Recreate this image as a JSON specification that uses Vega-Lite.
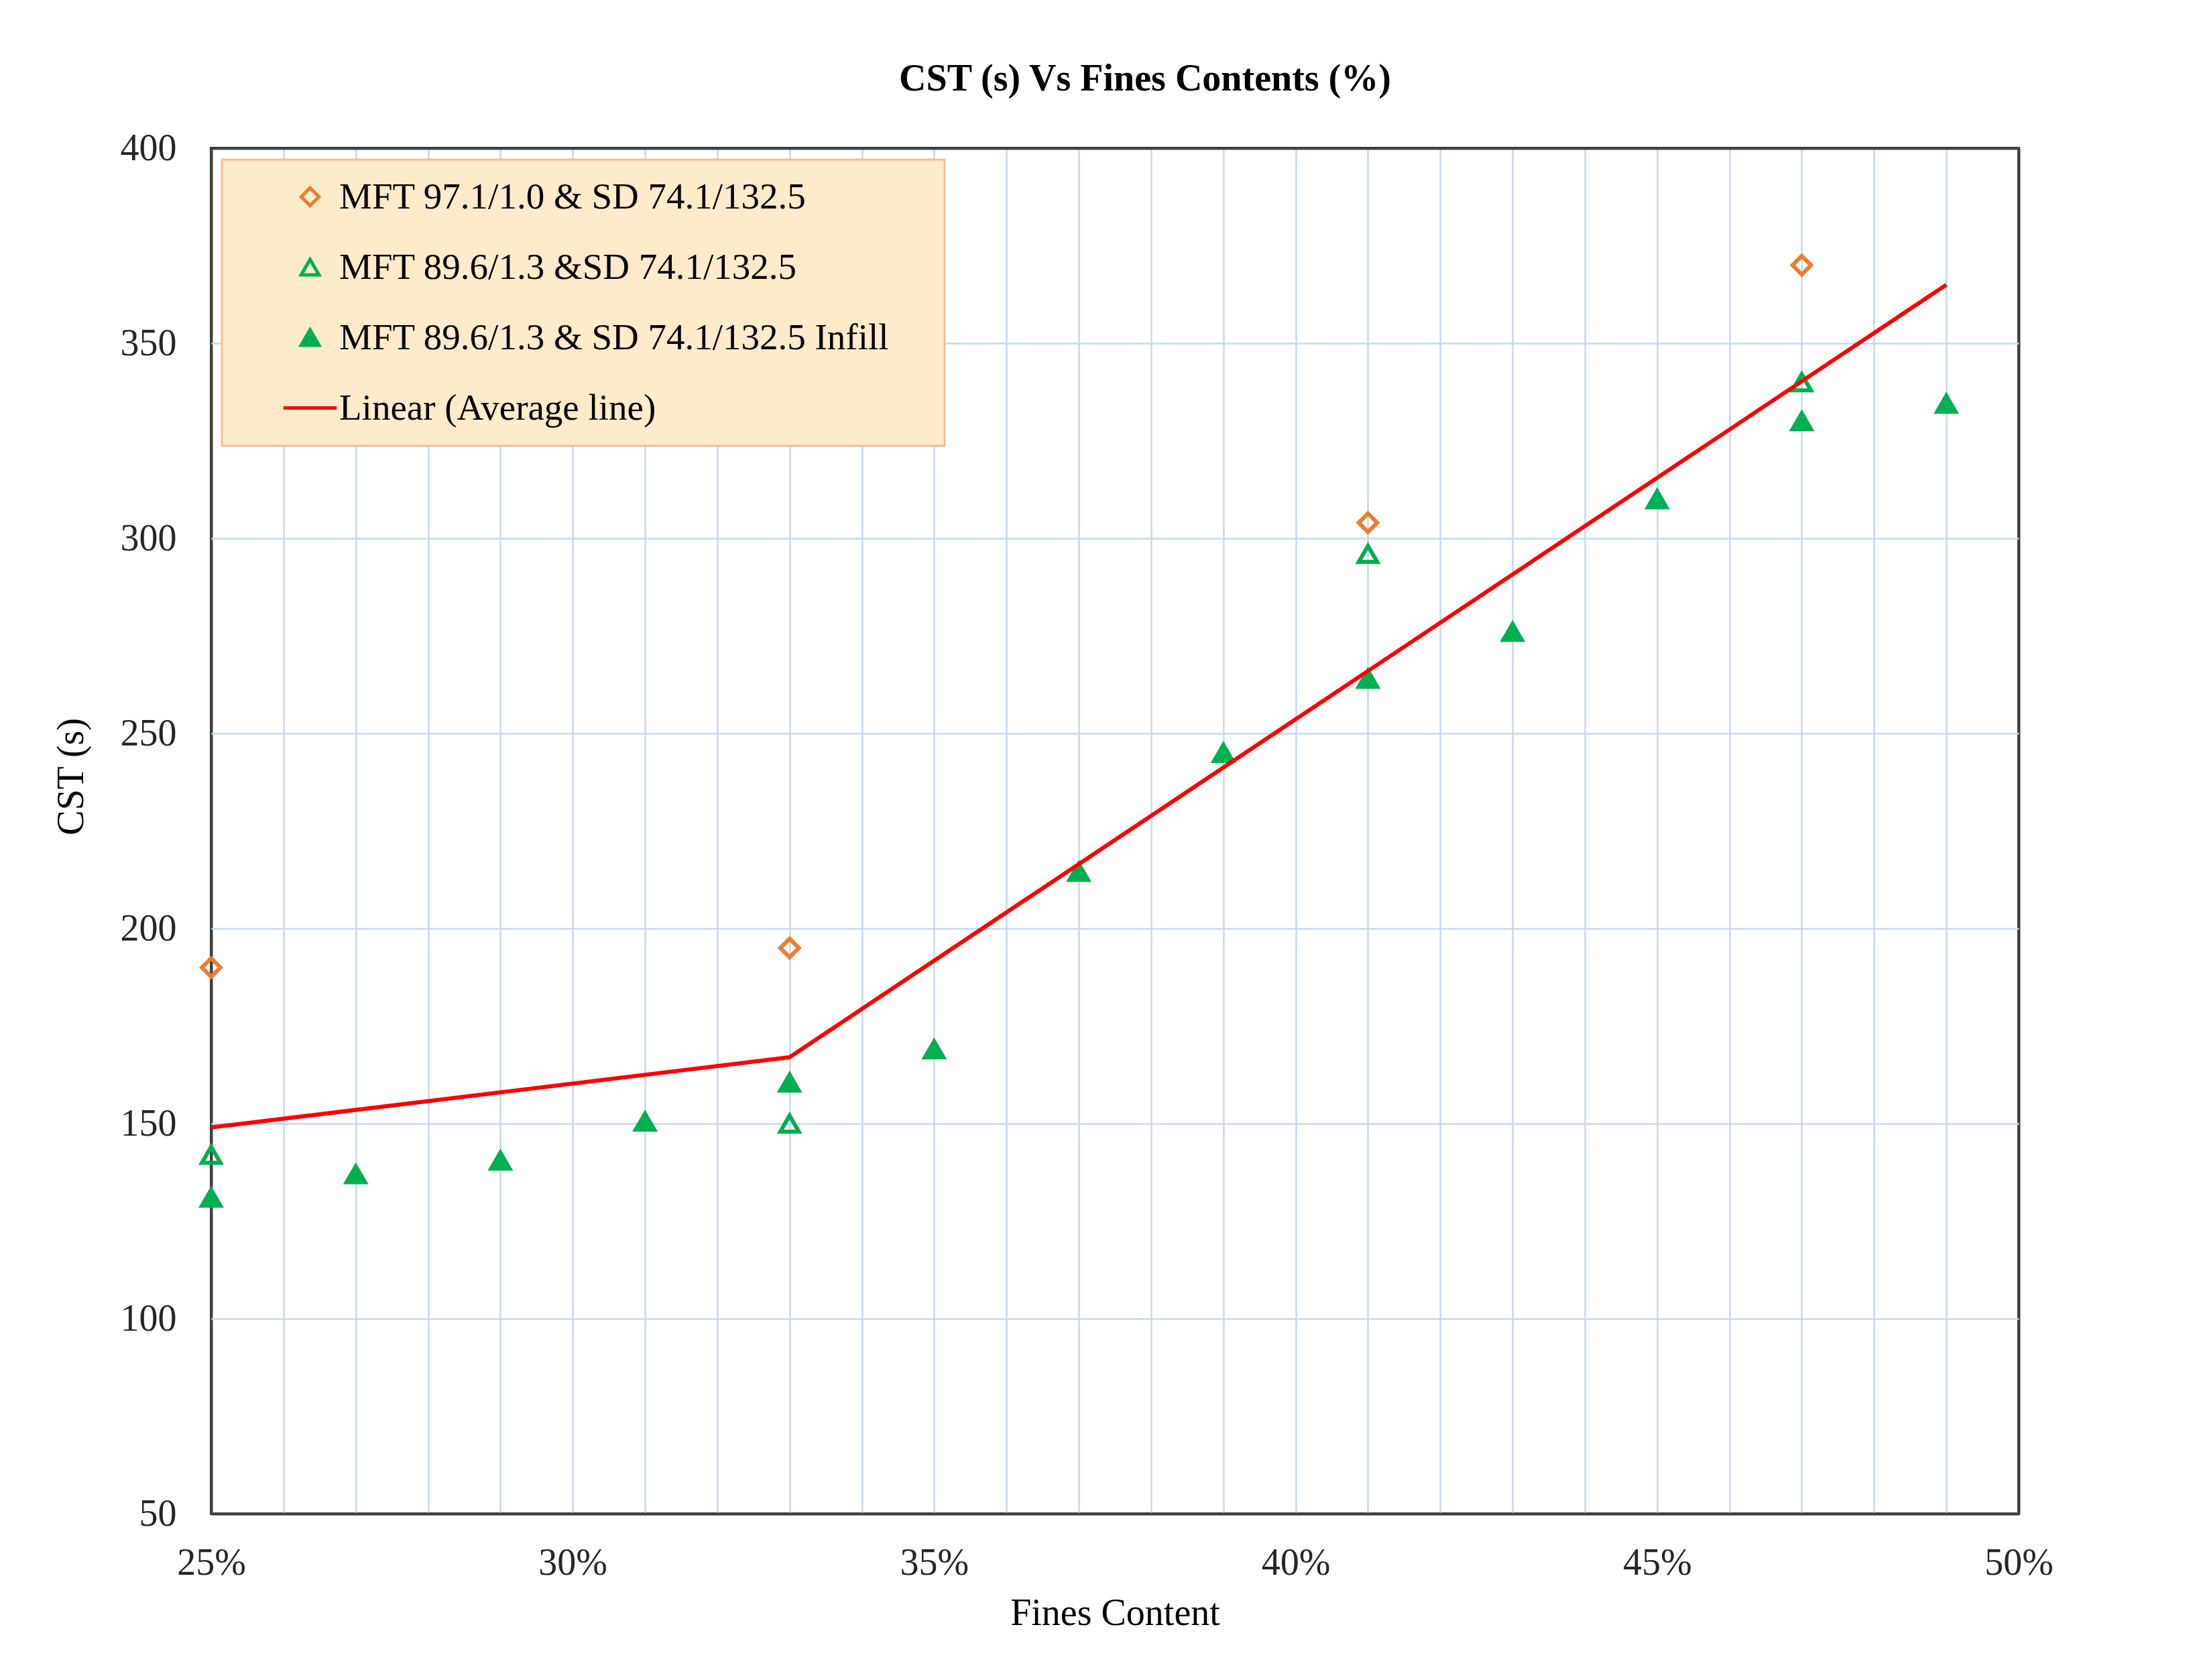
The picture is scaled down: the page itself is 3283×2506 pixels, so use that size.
{
  "$schema": "https://vega.github.io/schema/vega-lite/v6.json",
  "autosize": {"type": "none"},
  "padding": {"left": 315, "top": 221, "right": 272, "bottom": 248},
  "width": 2696,
  "height": 2037,
  "background": "white",
  "title": {
    "text": "CST (s) Vs  Fines Contents (%)",
    "font": "Liberation Serif",
    "fontSize": 56,
    "fontWeight": "bold",
    "color": "#000000",
    "offset": 46,
    "dx": 45
  },
  "data": {
    "values": [
      {"fines": 0.25, "cst": 190, "series": "MFT 97.1/1.0 & SD 74.1/132.5"},
      {"fines": 0.33, "cst": 195, "series": "MFT 97.1/1.0 & SD 74.1/132.5"},
      {"fines": 0.41, "cst": 304, "series": "MFT 97.1/1.0 & SD 74.1/132.5"},
      {"fines": 0.47, "cst": 370, "series": "MFT 97.1/1.0 & SD 74.1/132.5"},
      {"fines": 0.25, "cst": 142, "series": "MFT 89.6/1.3 &SD 74.1/132.5"},
      {"fines": 0.33, "cst": 150, "series": "MFT 89.6/1.3 &SD 74.1/132.5"},
      {"fines": 0.41, "cst": 296, "series": "MFT 89.6/1.3 &SD 74.1/132.5"},
      {"fines": 0.47, "cst": 340, "series": "MFT 89.6/1.3 &SD 74.1/132.5"},
      {"fines": 0.25, "cst": 131, "series": "MFT 89.6/1.3 & SD 74.1/132.5 Infill"},
      {"fines": 0.27, "cst": 137, "series": "MFT 89.6/1.3 & SD 74.1/132.5 Infill"},
      {"fines": 0.29, "cst": 140.5, "series": "MFT 89.6/1.3 & SD 74.1/132.5 Infill"},
      {"fines": 0.31, "cst": 150.5, "series": "MFT 89.6/1.3 & SD 74.1/132.5 Infill"},
      {"fines": 0.33, "cst": 160.5, "series": "MFT 89.6/1.3 & SD 74.1/132.5 Infill"},
      {"fines": 0.35, "cst": 169, "series": "MFT 89.6/1.3 & SD 74.1/132.5 Infill"},
      {"fines": 0.37, "cst": 214.5, "series": "MFT 89.6/1.3 & SD 74.1/132.5 Infill"},
      {"fines": 0.39, "cst": 245, "series": "MFT 89.6/1.3 & SD 74.1/132.5 Infill"},
      {"fines": 0.41, "cst": 264, "series": "MFT 89.6/1.3 & SD 74.1/132.5 Infill"},
      {"fines": 0.43, "cst": 276, "series": "MFT 89.6/1.3 & SD 74.1/132.5 Infill"},
      {"fines": 0.45, "cst": 310, "series": "MFT 89.6/1.3 & SD 74.1/132.5 Infill"},
      {"fines": 0.47, "cst": 330, "series": "MFT 89.6/1.3 & SD 74.1/132.5 Infill"},
      {"fines": 0.49, "cst": 334.5, "series": "MFT 89.6/1.3 & SD 74.1/132.5 Infill"},
      {"fines": 0.25, "cst": 149, "series": "Linear (Average line)"},
      {"fines": 0.33, "cst": 167, "series": "Linear (Average line)"},
      {"fines": 0.49, "cst": 365, "series": "Linear (Average line)"}
    ]
  },
  "encoding": {
    "x": {
      "field": "fines",
      "type": "quantitative",
      "title": "Fines Content",
      "scale": {"domain": [0.25, 0.5], "nice": false, "zero": false},
      "axis": {
        "values": [0.25, 0.26, 0.27, 0.28, 0.29, 0.3, 0.31, 0.32, 0.33, 0.34, 0.35, 0.36, 0.37, 0.38, 0.39, 0.4, 0.41, 0.42, 0.43, 0.44, 0.45, 0.46, 0.47, 0.48, 0.49, 0.5],
        "format": ".0%",
        "labelExpr": "round(datum.value * 100) % 5 == 0 ? datum.label : ''",
        "labelOverlap": false,
        "labelFlush": false,
        "labelPadding": 46,
        "titlePadding": 20,
        "gridColor": {
          "condition": {"test": "round(datum.value * 100) == 25 || round(datum.value * 100) == 50", "value": "#404040"},
          "value": "#c6d9f0"
        },
        "gridWidth": {
          "condition": {"test": "round(datum.value * 100) == 25 || round(datum.value * 100) == 50", "value": 4},
          "value": 2.5
        }
      }
    },
    "y": {
      "field": "cst",
      "type": "quantitative",
      "title": "CST (s)",
      "scale": {"domain": [50, 400], "nice": false, "zero": false},
      "axis": {
        "values": [50, 100, 150, 200, 250, 300, 350, 400],
        "labelPadding": 52,
        "titlePadding": 44,
        "titleY": 937,
        "gridColor": {
          "condition": {"test": "datum.value == 50 || datum.value == 400", "value": "#404040"},
          "value": "#c6d9f0"
        },
        "gridWidth": {
          "condition": {"test": "datum.value == 50 || datum.value == 400", "value": 4},
          "value": 2.5
        }
      }
    }
  },
  "layer": [
    {
      "transform": [{"filter": "datum.series != 'Linear (Average line)'"}],
      "mark": {"type": "point", "size": 760, "strokeWidth": 6, "opacity": 1},
      "encoding": {
        "shape": {
          "field": "series",
          "type": "nominal",
          "scale": {
            "domain": ["MFT 97.1/1.0 & SD 74.1/132.5", "MFT 89.6/1.3 &SD 74.1/132.5", "MFT 89.6/1.3 & SD 74.1/132.5 Infill", "Linear (Average line)"],
            "range": ["diamond", "triangle-up", "triangle-up", "M-3,0H3"]
          },
          "legend": {
            "labelExpr": "datum.label + ' \u2800'"
          }
        },
        "stroke": {
          "field": "series",
          "type": "nominal",
          "scale": {
            "domain": ["MFT 97.1/1.0 & SD 74.1/132.5", "MFT 89.6/1.3 &SD 74.1/132.5", "MFT 89.6/1.3 & SD 74.1/132.5 Infill", "Linear (Average line)"],
            "range": ["#ed7d31", "#00b050", "#00b050", "#ff0000"]
          },
          "legend": {
            "labelExpr": "datum.label + ' \u2800'"
          }
        },
        "fill": {
          "field": "series",
          "type": "nominal",
          "scale": {
            "domain": ["MFT 97.1/1.0 & SD 74.1/132.5", "MFT 89.6/1.3 &SD 74.1/132.5", "MFT 89.6/1.3 & SD 74.1/132.5 Infill", "Linear (Average line)"],
            "range": ["transparent", "transparent", "#00b050", "transparent"]
          },
          "legend": {
            "labelExpr": "datum.label + ' \u2800'"
          }
        }
      }
    },
    {
      "transform": [{"filter": "datum.series == 'Linear (Average line)'"}],
      "mark": {"type": "line", "strokeWidth": 6},
      "encoding": {
        "stroke": {"field": "series", "type": "nominal"}
      }
    }
  ],
  "config": {
    "font": "Liberation Serif",
    "view": {"stroke": "#404040", "strokeWidth": 4},
    "axis": {
      "grid": true,
      "domain": false,
      "ticks": false,
      "tickSize": 0,
      "labelFont": "Liberation Serif",
      "labelFontSize": 56,
      "labelColor": "#262626",
      "titleFont": "Liberation Serif",
      "titleFontSize": 56,
      "titleFontWeight": "normal",
      "titleColor": "#000000"
    },
    "legend": {
      "title": null,
      "orient": "none",
      "legendX": 16,
      "legendY": 17,
      "padding": 28,
      "fillColor": "#fdebc9",
      "strokeColor": "#f6bf8e",
      "strokeWidth": 3,
      "labelFont": "Liberation Serif",
      "labelFontSize": 55,
      "labelColor": "#000000",
      "labelLimit": 2000,
      "labelOffset": 16,
      "symbolSize": 700,
      "symbolStrokeWidth": 5,
      "symbolOffset": 76,
      "rowPadding": 49
    }
  }
}
